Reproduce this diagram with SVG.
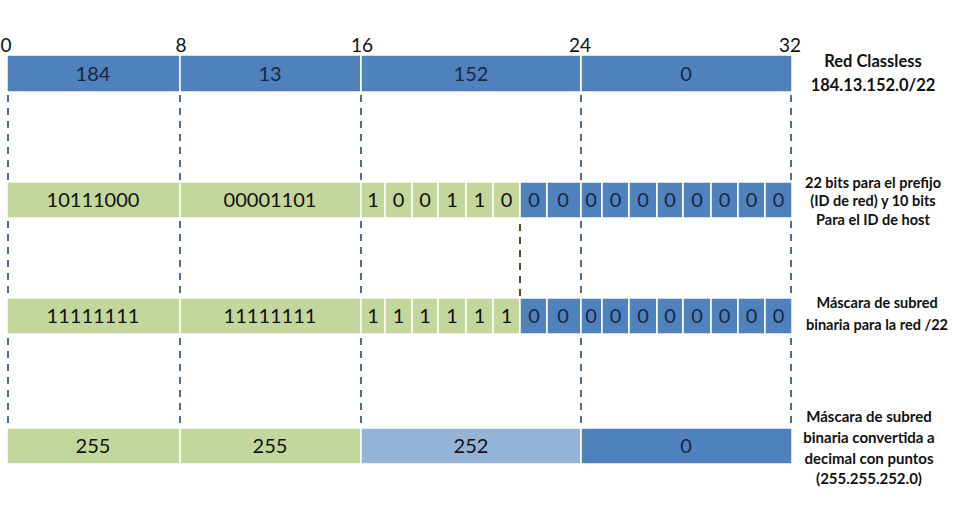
<svg xmlns="http://www.w3.org/2000/svg" width="960" height="520" viewBox="0 0 960 520">
<style>
.b{fill:#4f81bd;stroke:#fff;stroke-width:1.5}
.g{fill:#c3d69b;stroke:#fff;stroke-width:1.5}
.l{fill:#95b3d7;stroke:#fff;stroke-width:1.5}
.t{font-family:Lato,"Liberation Sans",sans-serif;font-size:20px;text-anchor:middle}
.tb{fill:#1a2740}
.tg{fill:#111}
.ax{font-family:Lato,"Liberation Sans",sans-serif;font-size:19px;text-anchor:middle;fill:#111}
.n{font-family:Lato,"Liberation Sans",sans-serif;font-weight:bold;text-anchor:middle;fill:#111}
.d{stroke:#4f6f95;stroke-width:2;stroke-dasharray:7 6;fill:none}
.o{stroke:#4d4d33;stroke-width:2;stroke-dasharray:7 6;fill:none}
</style>
<rect width="960" height="520" fill="#fff"/>
<g id="axis">
<text class="ax" x="6" y="52">0</text>
<text class="ax" x="181" y="52">8</text>
<text class="ax" x="362" y="52">16</text>
<text class="ax" x="580" y="52">24</text>
<text class="ax" x="790" y="52">32</text>
</g>
<g id="connectors">
<path class="d" d="M8 95V180M180 95V180M361 95V180M581 95V180M791 95V180"/>
<path class="d" d="M8 221V296M180 221V296M361 221V296M581 221V296M791 221V296"/>
<path class="o" d="M520 224V296"/>
<path class="d" d="M8 338V426M180 338V426M361 338V426M581 338V426M791 338V426"/>
</g>
<g id="row-decimal">
<rect class="b" x="7" y="55" width="173" height="37"/>
<rect class="b" x="180" y="55" width="181" height="37"/>
<rect class="b" x="361" y="55" width="220" height="37"/>
<rect class="b" x="581" y="55" width="211" height="37"/>
<g class="t tb">
<text x="93" y="81">184</text>
<text x="270" y="81">13</text>
<text x="471" y="81">152</text>
<text x="686" y="81">0</text>
</g>
</g>
<g id="label-red">
<text class="n" x="873" y="67" font-size="16.5">Red Classless</text>
<text class="n" x="873" y="91" font-size="16.5">184.13.152.0/22</text>
</g>
<g id="row-binary">
<rect class="g" x="7" y="182" width="173" height="36"/>
<rect class="g" x="180" y="182" width="181" height="36"/>
<rect class="g" x="361" y="182" width="24" height="36"/>
<rect class="g" x="385" y="182" width="27" height="36"/>
<rect class="g" x="412" y="182" width="26" height="36"/>
<rect class="g" x="438" y="182" width="28" height="36"/>
<rect class="g" x="466" y="182" width="27" height="36"/>
<rect class="g" x="493" y="182" width="27" height="36"/>
<rect class="b" x="520" y="182" width="27" height="36"/>
<rect class="b" x="547" y="182" width="34" height="36"/>
<rect class="b" x="581" y="182" width="21" height="36"/>
<rect class="b" x="602" y="182" width="27" height="36"/>
<rect class="b" x="629" y="182" width="28" height="36"/>
<rect class="b" x="657" y="182" width="26" height="36"/>
<rect class="b" x="683" y="182" width="28" height="36"/>
<rect class="b" x="711" y="182" width="27" height="36"/>
<rect class="b" x="738" y="182" width="27" height="36"/>
<rect class="b" x="765" y="182" width="27" height="36"/>
<g class="t tg">
<text x="93" y="207">10111000</text>
<text x="270" y="207">00001101</text>
<text x="373" y="207">1</text>
<text x="398.5" y="207">0</text>
<text x="425" y="207">0</text>
<text x="452" y="207">1</text>
<text x="479.5" y="207">1</text>
<text x="506.5" y="207">0</text>
</g>
<g class="t tb">
<text x="534" y="207">0</text>
<text x="563" y="207">0</text>
<text x="591" y="207">0</text>
<text x="615.5" y="207">0</text>
<text x="643" y="207">0</text>
<text x="670" y="207">0</text>
<text x="697" y="207">0</text>
<text x="724.5" y="207">0</text>
<text x="751.5" y="207">0</text>
<text x="778.5" y="207">0</text>
</g>
</g>
<g id="label-bits">
<text class="n" x="873" y="188" font-size="14.5">22 bits para el prefijo</text>
<text class="n" x="873" y="206" font-size="14.5">(ID de red) y 10 bits</text>
<text class="n" x="873" y="225" font-size="14.5">Para el ID de host</text>
</g>
<g id="row-mask">
<rect class="g" x="7" y="298" width="173" height="36"/>
<rect class="g" x="180" y="298" width="181" height="36"/>
<rect class="g" x="361" y="298" width="24" height="36"/>
<rect class="g" x="385" y="298" width="27" height="36"/>
<rect class="g" x="412" y="298" width="26" height="36"/>
<rect class="g" x="438" y="298" width="28" height="36"/>
<rect class="g" x="466" y="298" width="27" height="36"/>
<rect class="g" x="493" y="298" width="27" height="36"/>
<rect class="b" x="520" y="298" width="27" height="36"/>
<rect class="b" x="547" y="298" width="34" height="36"/>
<rect class="b" x="581" y="298" width="21" height="36"/>
<rect class="b" x="602" y="298" width="27" height="36"/>
<rect class="b" x="629" y="298" width="28" height="36"/>
<rect class="b" x="657" y="298" width="26" height="36"/>
<rect class="b" x="683" y="298" width="28" height="36"/>
<rect class="b" x="711" y="298" width="27" height="36"/>
<rect class="b" x="738" y="298" width="27" height="36"/>
<rect class="b" x="765" y="298" width="27" height="36"/>
<g class="t tg">
<text x="93" y="323">11111111</text>
<text x="270" y="323">11111111</text>
<text x="373" y="323">1</text>
<text x="398.5" y="323">1</text>
<text x="425" y="323">1</text>
<text x="452" y="323">1</text>
<text x="479.5" y="323">1</text>
<text x="506.5" y="323">1</text>
</g>
<g class="t tb">
<text x="534" y="323">0</text>
<text x="563" y="323">0</text>
<text x="591" y="323">0</text>
<text x="615.5" y="323">0</text>
<text x="643" y="323">0</text>
<text x="670" y="323">0</text>
<text x="697" y="323">0</text>
<text x="724.5" y="323">0</text>
<text x="751.5" y="323">0</text>
<text x="778.5" y="323">0</text>
</g>
</g>
<g id="label-mask">
<text class="n" x="877" y="308" font-size="14.5">Máscara de subred</text>
<text class="n" x="877" y="330" font-size="14.5">binaria para la red /22</text>
</g>
<g id="row-mask-decimal">
<rect class="g" x="7" y="428" width="173" height="36"/>
<rect class="g" x="180" y="428" width="181" height="36"/>
<rect class="l" x="361" y="428" width="220" height="36"/>
<rect class="b" x="581" y="428" width="211" height="36"/>
<g class="t tg">
<text x="93" y="453">255</text>
<text x="270" y="453">255</text>
<text x="471" y="453">252</text>
</g>
<text class="t tb" x="686" y="453">0</text>
</g>
<g id="label-decimal">
<text class="n" x="869" y="422" font-size="15">Máscara de subred</text>
<text class="n" x="869" y="443" font-size="15">binaria convertida a</text>
<text class="n" x="869" y="464" font-size="15">decimal con puntos</text>
<text class="n" x="869" y="484" font-size="15">(255.255.252.0)</text>
</g>
</svg>
